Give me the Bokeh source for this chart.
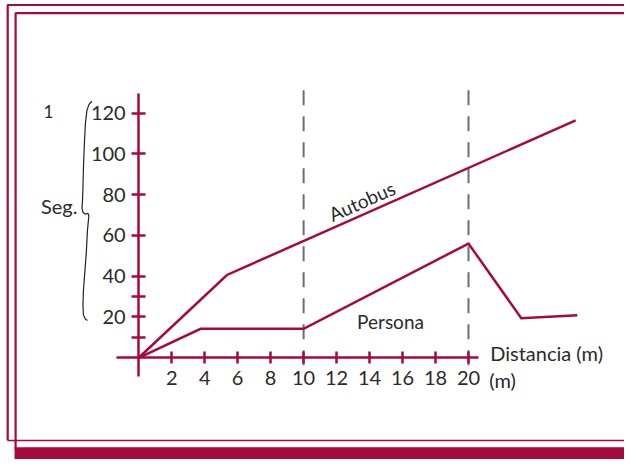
import math
from bokeh.plotting import figure
from bokeh.models import Range1d, LinearAxis, FixedTicker
from bokeh.core.properties import value
from bokeh.embed import file_html
from bokeh.resources import INLINE

# ---------------- data ----------------
autobus_x = [0, 5.35, 26.5]
autobus_y = [0, 40.6, 116.4]
persona_x = [0, 3.75, 10.0, 20.0, 23.2, 26.6]
persona_y = [0, 14.2, 14.2, 56.0, 19.4, 20.8]
x_ticks = [2, 4, 6, 8, 10, 12, 14, 16, 18, 20]
y_ticks = [10, 20, 30, 40, 60, 80, 100, 120]
y_hidden = [10, 30]
marker_x = [10, 20]

RED = "#a6093d"
TXT = "#2a2a2a"
GRAY = "#6e6e6e"
FONT = "Lato"

# ---------------- geometry (reference pixels -> data) ----------------
W, H = 624, 459          # figure size; reference 632x467 is mapped onto it
RW, RH = 632, 467
X0, SX = 140.0, 16.7     # ref px of x=0, ref px per unit
Y0, SY = 363.5, 2.075    # ref px of y=0, ref px per unit


def dx(px):
    return (px - X0) / SX


def dy(py):
    return (Y0 - py) / SY


p = figure(width=W, height=H, output_backend="svg", toolbar_location=None,
           x_range=Range1d(dx(0), dx(RW)),
           y_range=Range1d(dy(RH), dy(0)),
           x_axis_type=None, y_axis_type=None, min_border=0,
           outline_line_color=None, background_fill_color="white")

# ---------------- frame decoration ----------------
p.line([dx(640), dx(7.3), dx(7.3)], [dy(4.6), dy(4.6), dy(447.7)], line_color=RED, line_width=2.2)
p.line([dx(7.3), dx(640)], [dy(447.7), dy(447.7)], line_color=RED, line_width=1.6)
p.line([dx(640), dx(15.3), dx(15.3)], [dy(12.9), dy(12.9), dy(456)], line_color=RED, line_width=2.2)
p.quad(left=[dx(14.2)], right=[dx(650)], top=[dy(454.6)], bottom=[dy(480)],
       fill_color=RED, line_color=None)

# ---------------- dashed markers ----------------
p.segment(x0=marker_x, y0=[dy(371)] * 2, x1=marker_x, y1=[dy(85)] * 2,
          line_color=GRAY, line_width=2, line_dash="15 11")

# ---------------- axes ----------------
xa = LinearAxis(fixed_location=0, ticker=FixedTicker(ticks=x_ticks),
                bounds=(dx(117), dx(484)),
                axis_line_color=RED, axis_line_width=2.5,
                major_tick_line_color=RED, major_tick_line_width=2.5,
                major_tick_in=6, major_tick_out=6, minor_tick_line_color=None,
                major_label_text_font=FONT, major_label_text_font_size="20px",
                major_label_text_color=TXT, major_label_standoff=7)
p.add_layout(xa, "below")

ya = LinearAxis(fixed_location=0, ticker=FixedTicker(ticks=y_ticks),
                bounds=(dy(383), dy(95)),
                axis_line_color=RED, axis_line_width=2.5,
                major_tick_line_color=RED, major_tick_line_width=2.5,
                major_tick_in=7, major_tick_out=7, minor_tick_line_color=None,
                major_label_text_font=FONT, major_label_text_font_size="20px",
                major_label_text_color=TXT, major_label_standoff=6,
                major_label_overrides={t: "" for t in y_hidden})
p.add_layout(ya, "left")

# ---------------- series ----------------
p.line(autobus_x, autobus_y, line_color=RED, line_width=2.5, line_join="miter")
p.line(persona_x, persona_y, line_color=RED, line_width=2.5, line_join="miter")

# ---------------- brace ----------------
brace_px = [(92.5, 102.5), (89.5, 106), (87.5, 112), (86, 125), (85, 145), (84, 170),
            (83.5, 190), (83, 205), (82.5, 211), (83.5, 215.5), (86, 217.5), (88.5, 216.5),
            (89.5, 219), (89, 224), (88, 235), (87, 255), (85.5, 275), (84, 295),
            (83.5, 310), (84, 320), (86, 324), (88, 325.5)]
p.line([dx(a) for a, b in brace_px], [dy(b) for a, b in brace_px],
       line_color="#222222", line_width=1.2)

# ---------------- texts ----------------
ang = math.atan((autobus_y[2] - autobus_y[1]) * SY * (H / RH)
                / ((autobus_x[2] - autobus_x[1]) * SX * (W / RW)))
p.text(x=[dx(366)], y=[dy(204)], text=["Autobus"], angle=ang,
       text_align="center", text_baseline="middle",
       text_font=value(FONT), text_font_size="19px", text_color=TXT)
p.text(x=[dx(395)], y=[dy(327)], text=["Persona"],
       text_align="center", text_baseline="alphabetic",
       text_font=value(FONT), text_font_size="19px", text_color=TXT)
p.text(x=[dx(496)], y=[dy(359)], text=["Distancia (m)"],
       text_align="left", text_baseline="alphabetic",
       text_font=value(FONT), text_font_size="20px", text_color=TXT)
p.text(x=[dx(495)], y=[dy(386)], text=["(m)"],
       text_align="left", text_baseline="alphabetic",
       text_font=value(FONT), text_font_size="20px", text_color=TXT)
p.text(x=[dx(48.5)], y=[dy(112.5)], text=["1"],
       text_align="center", text_baseline="alphabetic",
       text_font=value(FONT), text_font_size="17px", text_color=TXT)
p.text(x=[dx(41)], y=[dy(209.5)], text=["Seg."],
       text_align="left", text_baseline="alphabetic",
       text_font=value(FONT), text_font_size="20px", text_color=TXT)

open("out.html", "w").write(file_html(p, INLINE))
